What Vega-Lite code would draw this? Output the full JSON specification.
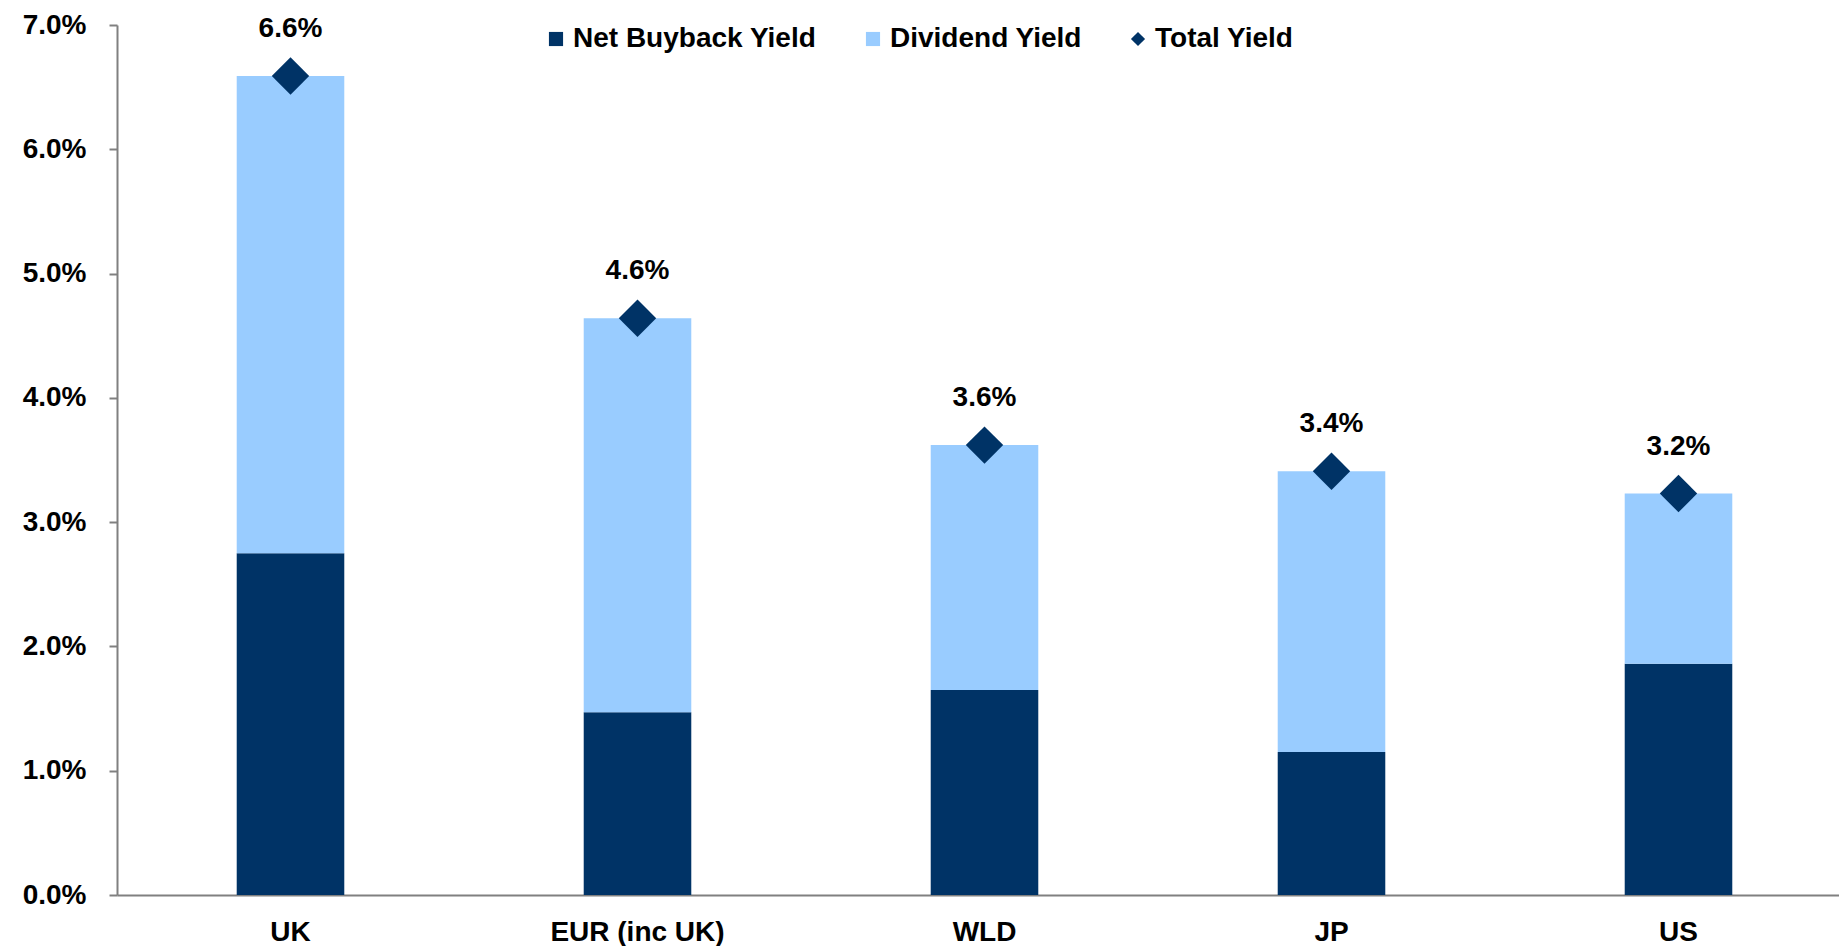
{
  "$schema": "https://vega.github.io/schema/vega-lite/v6.json",
  "width": 1722,
  "height": 870,
  "autosize": {"type": "none"},
  "padding": {"left": 117, "top": 25, "right": 0, "bottom": 51},
  "background": "white",
  "config": {
    "view": {"stroke": null},
    "font": "Liberation Sans"
  },
  "datasets": {
    "segments": [
      {"country": "UK", "series": "Net Buyback Yield", "value": 0.0275},
      {"country": "UK", "series": "Dividend Yield", "value": 0.0384},
      {"country": "EUR (inc UK)", "series": "Net Buyback Yield", "value": 0.0147},
      {"country": "EUR (inc UK)", "series": "Dividend Yield", "value": 0.0317},
      {"country": "WLD", "series": "Net Buyback Yield", "value": 0.0165},
      {"country": "WLD", "series": "Dividend Yield", "value": 0.0197},
      {"country": "JP", "series": "Net Buyback Yield", "value": 0.0115},
      {"country": "JP", "series": "Dividend Yield", "value": 0.0226},
      {"country": "US", "series": "Net Buyback Yield", "value": 0.0186},
      {"country": "US", "series": "Dividend Yield", "value": 0.0137}
    ],
    "totals": [
      {"country": "UK", "total": 0.0659},
      {"country": "EUR (inc UK)", "total": 0.0464},
      {"country": "WLD", "total": 0.0362},
      {"country": "JP", "total": 0.0341},
      {"country": "US", "total": 0.0323}
    ]
  },
  "layer": [
    {
      "data": {"name": "segments"},
      "mark": {"type": "bar", "width": {"band": 0.31}},
      "encoding": {
        "x": {
          "field": "country", "type": "nominal",
          "sort": ["UK", "EUR (inc UK)", "WLD", "JP", "US"],
          "scale": {"paddingInner": 0, "paddingOuter": 0, "range": [0, 1735]},
          "axis": {
            "title": null, "ticks": false, "labelAngle": 0,
            "domainColor": "#808080", "domainWidth": 2,
            "labelFontSize": 28, "labelFontWeight": "bold", "labelColor": "#000000",
            "labelPadding": 23
          }
        },
        "y": {
          "field": "value", "type": "quantitative", "stack": "zero",
          "scale": {"domain": [0, 0.07], "nice": false},
          "axis": {
            "title": null, "format": ".1%", "grid": false,
            "values": [0, 0.01, 0.02, 0.03, 0.04, 0.05, 0.06, 0.07],
            "domainColor": "#808080", "domainWidth": 2,
            "tickColor": "#808080", "tickWidth": 2, "tickSize": 8,
            "labelFontSize": 28, "labelFontWeight": "bold", "labelColor": "#000000",
            "labelPadding": 23
          }
        },
        "color": {
          "field": "series", "type": "nominal",
          "scale": {
            "domain": ["Net Buyback Yield", "Dividend Yield", "Total Yield"],
            "range": ["#003366", "#99CCFF", "#003366"]
          },
          "legend": {
            "title": null,
            "orient": "none",
            "direction": "horizontal",
            "legendX": 425,
            "legendY": 0,
            "labelFontSize": 28,
            "labelFontWeight": "bold",
            "labelColor": "#000000",
            "labelLimit": 0,
            "symbolType": "square",
            "symbolSize": 200,
            "symbolStrokeWidth": 0,
            "labelOffset": 3,
            "columnPadding": 42,
            "encode": {
              "symbols": {
                "update": {
                  "shape": {"signal": "datum.value === 'Total Yield' ? 'diamond' : 'square'"}
                }
              }
            }
          }
        },
        "order": {"field": "series", "sort": "descending"}
      }
    },
    {
      "data": {"name": "totals"},
      "mark": {"type": "point", "shape": "diamond", "filled": true, "size": 1400, "opacity": 1},
      "encoding": {
        "x": {"field": "country", "type": "nominal", "sort": ["UK", "EUR (inc UK)", "WLD", "JP", "US"]},
        "y": {"field": "total", "type": "quantitative"},
        "color": {"datum": "Total Yield"}
      }
    },
    {
      "data": {"name": "totals"},
      "mark": {"type": "text", "dy": -47, "fontSize": 28, "fontWeight": "bold", "color": "#000000", "baseline": "middle"},
      "encoding": {
        "x": {"field": "country", "type": "nominal", "sort": ["UK", "EUR (inc UK)", "WLD", "JP", "US"]},
        "y": {"field": "total", "type": "quantitative"},
        "text": {"field": "total", "type": "quantitative", "format": ".1%"}
      }
    }
  ]
}
